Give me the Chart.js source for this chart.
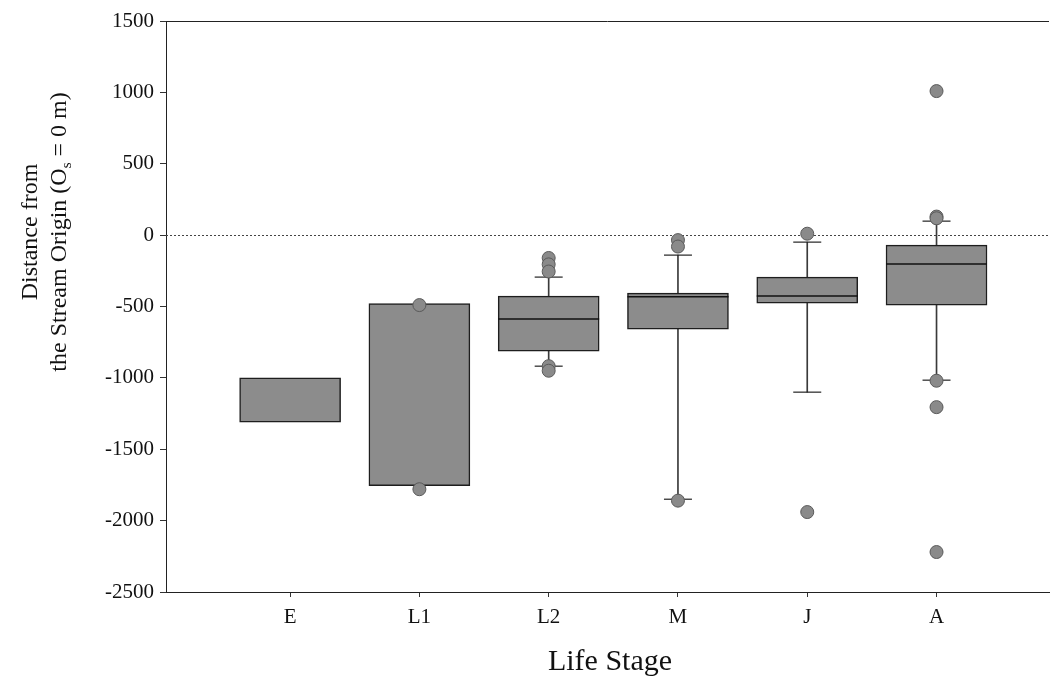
<!DOCTYPE html>
<html>
<head>
<meta charset="utf-8">
<script src="https://cdn.jsdelivr.net/npm/chart.js@4/dist/chart.umd.min.js"></script>
<style>
  html, body { margin: 0; padding: 0; background: #fff; }
  #wrap { width: 1050px; height: 677px; position: relative; }
</style>
</head>
<body>
<div id="wrap"><canvas id="c"></canvas></div>
<script>
// ---- data ----
const stages      = ['E', 'L1', 'L2', 'M', 'J', 'A'];
const q1          = [-1310, -1755, -813, -658, -476, -490];
const q3          = [-1000, -480, -427, -406, -294, -70];
const medians     = [null, null, -588, -432, -427, -203];
const whiskerLow  = [null, null, -918, -1850, -1100, -1016];
const whiskerHigh = [null, null, -294, -140, -49, 98];
const outliers    = [
  [],
  [-490, -1780],
  [-160, -205, -255, -918, -950],
  [-35, -80, -1860],
  [10, -1940],
  [1009, 130, 118, -1020, -1205, -2220]
];
const yTicks = [-2500, -2000, -1500, -1000, -500, 0, 500, 1000, 1500];
const refValue = 0;

// ---- build datasets ----
const pos = stages.map((s, i) => i + 1);
const boxData = pos.map((x, i) => ({ x, y: [q1[i], q3[i]] }));
const medianData = pos.map((x, i) => medians[i] == null ? null : { x, y: medians[i] }).filter(Boolean);
const whiskerData = [];
const capData = [];
pos.forEach((x, i) => {
  if (whiskerHigh[i] != null) { whiskerData.push({ x, y: [q3[i], whiskerHigh[i]] }); capData.push({ x, y: whiskerHigh[i] }); }
  if (whiskerLow[i] != null)  { whiskerData.push({ x, y: [whiskerLow[i], q1[i]] }); capData.push({ x, y: whiskerLow[i] }); }
});
const outlierData = [];
pos.forEach((x, i) => outliers[i].forEach(v => outlierData.push({ x, y: v })));

const SERIF = "'Liberation Serif', 'DejaVu Serif', serif";

const framePlugin = {
  id: 'frame',
  beforeDatasetsDraw(chart) {
    const { ctx, chartArea: a, scales } = chart;
    const y0 = scales.y.getPixelForValue(refValue);
    ctx.save();
    ctx.strokeStyle = '#444';
    ctx.lineWidth = 1;
    ctx.setLineDash([2, 2]);
    ctx.beginPath();
    ctx.moveTo(a.left, Math.round(y0) + 0.5);
    ctx.lineTo(a.right, Math.round(y0) + 0.5);
    ctx.stroke();
    ctx.setLineDash([]);
    ctx.strokeStyle = '#222';
    ctx.beginPath();
    ctx.moveTo(a.left, a.top + 0.5);
    ctx.lineTo(a.right, a.top + 0.5);
    ctx.stroke();
    ctx.restore();
  },
  afterDraw(chart) {
    const { ctx, chartArea: a } = chart;
    ctx.save();
    ctx.fillStyle = '#111';
    // x title
    ctx.font = '30px ' + SERIF;
    ctx.textAlign = 'center';
    ctx.textBaseline = 'alphabetic';
    ctx.fillText('Life Stage', 610, 670);
    // y title (rotated, two lines, with subscript)
    const cy = 232;
    ctx.font = '24px ' + SERIF;
    ctx.save();
    ctx.translate(37, cy);
    ctx.rotate(-Math.PI / 2);
    ctx.textAlign = 'center';
    ctx.fillText('Distance from', 0, 0);
    ctx.restore();
    ctx.save();
    ctx.translate(66, cy);
    ctx.rotate(-Math.PI / 2);
    ctx.textAlign = 'left';
    const p1 = 'the Stream Origin (O';
    const sub = 's';
    const p2 = ' = 0 m)';
    ctx.font = '24px ' + SERIF;
    const w1 = ctx.measureText(p1).width;
    const w3 = ctx.measureText(p2).width;
    ctx.font = '15px ' + SERIF;
    const w2 = ctx.measureText(sub).width;
    const total = w1 + w2 + w3;
    let x = -total / 2;
    ctx.font = '24px ' + SERIF;
    ctx.fillText(p1, x, 0); x += w1;
    ctx.font = '15px ' + SERIF;
    ctx.fillText(sub, x, 5); x += w2;
    ctx.font = '24px ' + SERIF;
    ctx.fillText(p2, x, 0);
    ctx.restore();
    ctx.restore();
  }
};

new Chart(document.getElementById('c'), {
  type: 'scatter',
  data: {
    datasets: [
      {
        type: 'bar', label: 'whiskers', data: whiskerData,
        backgroundColor: '#3a3a3a', borderWidth: 0, barThickness: 1,
        grouped: false, order: 5
      },
      {
        type: 'bar', label: 'boxes', data: boxData,
        backgroundColor: '#8c8c8c', borderColor: '#1e1e1e', borderWidth: 1.5,
        borderSkipped: false, barThickness: 101, grouped: false, order: 4
      },
      {
        label: 'median', data: medianData, pointStyle: 'line', pointRadius: 50.5,
        borderColor: '#111', borderWidth: 1.5, order: 3
      },
      {
        label: 'caps', data: capData, pointStyle: 'line', pointRadius: 14,
        borderColor: '#222', borderWidth: 1.2, order: 3
      },
      {
        label: 'outliers', data: outlierData, pointStyle: 'circle', pointRadius: 6.5,
        backgroundColor: '#8a8a8a', borderColor: '#5a5a5a', borderWidth: 1, order: 1
      }
    ]
  },
  options: {
    responsive: true,
    maintainAspectRatio: false,
    animation: false,
    layout: { autoPadding: false, padding: { top: 21, right: 1, left: 0, bottom: 0 } },
    plugins: { legend: { display: false }, tooltip: { enabled: false } },
    scales: {
      x: {
        type: 'linear', min: 0.04, max: 6.87, offset: false,
        afterFit(scale) { scale.height = 85; },
        afterBuildTicks(scale) { scale.ticks = pos.map(v => ({ value: v })); },
        ticks: {
          autoSkip: false, maxRotation: 0, padding: 8, color: '#111',
          font: { family: SERIF, size: 21 },
          callback: (v) => stages[v - 1] ?? ''
        },
        grid: { display: true, drawOnChartArea: false, tickLength: 5, color: '#333', offset: false },
        border: { display: true, color: '#222', width: 1 }
      },
      y: {
        type: 'linear', min: -2500, max: 1500,
        afterFit(scale) { scale.width = 166; },
        afterBuildTicks(scale) { scale.ticks = yTicks.map(v => ({ value: v })); },
        ticks: {
          padding: 6, color: '#111',
          font: { family: SERIF, size: 21 },
          callback: (v) => String(v)
        },
        grid: { display: true, drawOnChartArea: false, tickLength: 6, color: '#333' },
        border: { display: true, color: '#222', width: 1 }
      }
    }
  },
  plugins: [framePlugin]
});
</script>
</body>
</html>
